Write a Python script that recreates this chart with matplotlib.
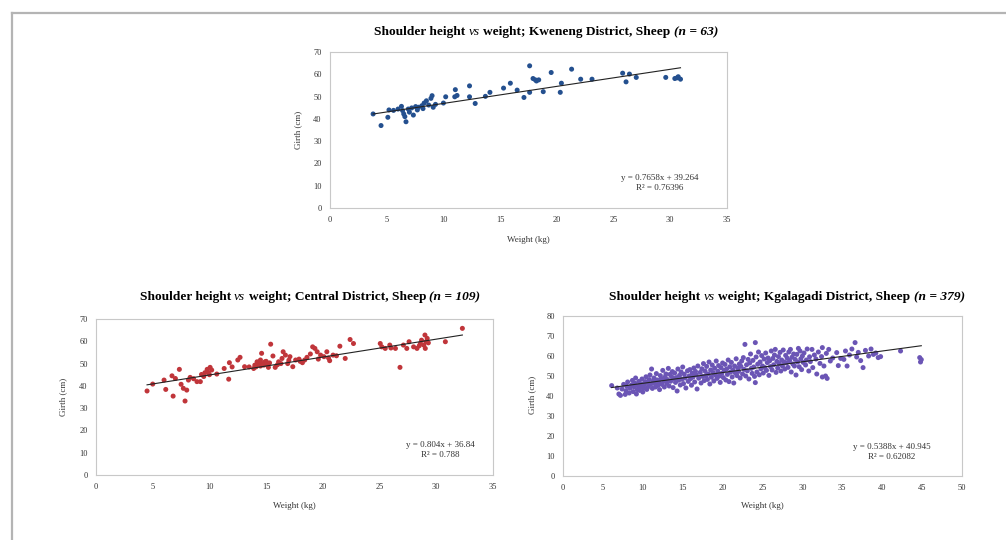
import matplotlib
matplotlib.use("Agg")
import matplotlib.pyplot as plt
from matplotlib.lines import Line2D
from matplotlib.offsetbox import TextArea, HPacker, AnnotationBbox
import numpy as np

plt.rcParams['font.family'] = ['Liberation Serif', 'DejaVu Serif']

# ---- Kweneng District (n = 63) ----
kw_weight = [3.8, 4.5, 5.1, 5.2, 5.6, 6.0, 6.3, 6.4, 6.5, 6.6, 6.7, 6.9, 7.0, 7.2, 7.35, 7.55, 7.7,
             7.8, 8.1, 8.2, 8.3, 8.5, 8.7, 8.9, 9.0, 9.1, 9.3, 10.0, 10.2, 11.0, 11.05, 11.2, 12.3,
             12.3, 12.8, 13.7, 14.1, 15.3, 15.9, 16.5, 17.1, 17.6, 17.6, 17.9, 18.1, 18.2, 18.4,
             18.8, 19.5, 20.3, 20.4, 21.3, 22.1, 23.1, 25.8, 26.1, 26.4, 27.0, 29.6, 30.4, 30.6,
             30.7, 30.9]
kw_girth = [42.2, 37.0, 40.7, 44.0, 43.8, 44.4, 45.6, 43.7, 42.2, 41.0, 38.7, 44.4, 43.0, 44.9,
            41.7, 45.5, 44.0, 45.2, 45.9, 44.6, 47.1, 48.1, 46.2, 49.2, 50.4, 45.2, 46.5, 47.1,
            49.9, 49.9, 53.1, 50.5, 54.8, 49.9, 46.9, 50.1, 51.9, 53.8, 56.0, 52.9, 49.6, 51.9,
            63.8, 58.1, 57.5, 57.0, 57.5, 52.2, 60.8, 51.9, 56.0, 62.3, 57.8, 57.8, 60.5, 56.6,
            60.1, 58.6, 58.6, 58.1, 58.4, 58.9, 57.8]

# ---- Central District (n = 109) ----
ce_weight = [4.5, 5.0, 6.0, 6.15, 6.7, 6.8, 7.0, 7.35, 7.5, 7.7, 7.85, 8.0, 8.15, 8.3, 8.6, 8.9,
             9.2, 9.3, 9.5, 9.6, 9.8, 9.9, 10.0, 10.06, 10.2, 10.65, 11.3, 11.7, 11.76, 12.0, 12.5,
             12.7, 13.1, 13.5, 13.9, 14.0, 14.1, 14.2, 14.3, 14.4, 14.5, 14.5, 14.6, 14.7, 14.8,
             14.9, 15.0, 15.1, 15.2, 15.3, 15.4, 15.6, 15.8, 16.0, 16.1, 16.3, 16.4, 16.5, 16.7,
             16.9, 17.0, 17.1, 17.35, 17.6, 17.9, 18.0, 18.2, 18.4, 18.6, 18.9, 19.1, 19.3, 19.5,
             19.6, 19.8, 20.1, 20.35, 20.5, 20.6, 20.9, 21.2, 21.5, 21.97, 22.4, 22.7, 25.06, 25.2,
             25.5, 25.9, 26.0, 26.4, 26.8, 27.1, 27.4, 27.6, 28.0, 28.3, 28.5, 28.6, 28.7, 28.9,
             29.0, 29.03, 29.1, 29.2, 29.3, 30.8, 32.3]
ce_girth = [37.7, 40.8, 42.6, 38.4, 44.5, 35.4, 43.3, 47.4, 40.7, 38.9, 33.2, 38.1, 42.6, 43.8,
            43.2, 41.9, 41.9, 45.1, 44.2, 45.9, 47.4, 45.9, 45.0, 48.3, 47.1, 45.3, 47.8, 43.0,
            50.4, 48.5, 51.6, 52.8, 48.6, 48.5, 47.8, 49.3, 48.5, 50.8, 50.0, 50.5, 48.9, 51.6,
            54.6, 50.0, 49.3, 50.8, 51.0, 49.6, 48.3, 50.3, 58.7, 53.4, 48.3, 49.5, 50.8, 50.0,
            52.3, 55.3, 53.8, 50.0, 51.5, 53.1, 48.6, 51.6, 52.0, 51.0, 50.4, 51.6, 52.8, 54.3,
            57.5, 56.8, 55.3, 52.0, 53.8, 53.1, 55.3, 52.5, 51.3, 53.8, 53.5, 57.8, 52.3, 60.8,
            59.0, 59.0, 57.5, 56.8, 58.3, 57.0, 56.8, 48.3, 58.3, 56.8, 59.8, 57.5, 56.8, 58.0,
            59.0, 60.5, 58.3, 62.8, 56.8, 59.8, 61.3, 59.3, 59.8, 65.8]

# ---- Kgalagadi District (n = 379) ----
kg_weight = [6.1, 6.8, 7.0, 7.2, 7.4, 7.6, 7.8, 7.9, 8.0, 8.1,
             8.3, 8.4, 8.6, 8.7, 8.8, 8.9, 9.0, 9.1, 9.2, 9.3, 9.4, 9.5, 9.6, 9.7, 9.8, 9.9,
             10.0, 10.1, 10.2, 10.3, 10.4, 10.5, 10.6, 10.7, 10.8, 10.9, 11.0, 11.1, 11.2, 11.3,
             11.4, 11.5, 11.6, 11.7, 11.8, 11.9,
             12.0, 12.1, 12.2, 12.3, 12.4, 12.5, 12.6, 12.7, 12.8, 12.9, 13.0, 13.1, 13.2, 13.3,
             13.4, 13.5, 13.6, 13.7, 13.8, 13.9,
             14.0, 14.1, 14.2, 14.3, 14.4, 14.5, 14.6, 14.7, 14.8, 14.9, 15.0, 15.1, 15.2, 15.3,
             15.4, 15.6, 15.7, 15.8, 15.9, 16.0,
             16.1, 16.2, 16.3, 16.4, 16.5, 16.6, 16.7, 16.8, 16.9, 17.0, 17.2, 17.3, 17.4, 17.5,
             17.6, 17.7, 17.8, 17.9, 18.0, 18.1,
             18.2, 18.3, 18.4, 18.5, 18.6, 18.7, 18.8, 18.9, 19.0, 19.1, 19.2, 19.3, 19.4, 19.5,
             19.6, 19.7, 19.8, 19.9, 20.0, 20.1,
             20.2, 20.3, 20.4, 20.5, 20.6, 20.7, 20.8, 20.9, 21.0, 21.1, 21.2, 21.3, 21.4, 21.5,
             21.6, 21.7, 21.8, 21.9, 22.0, 22.1,
             22.2, 22.3, 22.4, 22.5, 22.6, 22.7, 22.8, 22.9, 23.0, 23.1, 23.2, 23.3, 23.4, 23.5,
             23.6, 23.7, 23.8, 23.9, 24.0, 24.1, 24.1,
             24.2, 24.3, 24.4, 24.5, 24.6, 24.7, 24.8, 24.9, 25.0, 25.1, 25.2, 25.3, 25.4, 25.5,
             25.6, 25.7, 25.8, 25.9, 26.0, 26.1,
             26.2, 26.3, 26.4, 26.5, 26.6, 26.7, 26.8, 26.9, 27.0, 27.1, 27.2, 27.3, 27.4, 27.5,
             27.6, 27.7, 27.8, 27.9, 28.0, 28.1,
             28.2, 28.3, 28.4, 28.5, 28.6, 28.7, 28.8, 28.9, 29.0, 29.1, 29.2, 29.3, 29.4, 29.5,
             29.6, 29.7, 29.8, 29.9, 30.0, 30.1,
             30.2, 30.4, 30.5, 30.6, 30.8, 30.9, 31.0, 31.2, 31.3, 31.5, 31.7, 31.8, 32.0, 32.2,
             32.4, 32.5, 32.5, 32.7, 32.9, 33.1, 33.0, 33.3, 33.5, 33.8,
             34.3, 34.5, 34.8, 35.2, 35.4, 35.6, 35.9, 36.2, 36.6, 36.8, 37.0, 37.3, 37.6, 37.9,
             38.3, 38.6, 38.9, 39.2, 39.5, 39.8,
             42.3, 44.7, 44.8, 44.9]
kg_girth = [45.2, 44.0, 41.0, 40.3, 43.5, 45.8, 40.8, 42.6, 44.8, 47.0,
            41.5, 43.9, 45.5, 47.8, 42.2, 44.6, 46.4, 49.0, 41.0, 43.2, 45.1, 47.3, 42.8, 44.3, 46.0, 48.5,
            42.0, 44.0, 45.6, 47.2, 49.6, 43.3, 46.8, 44.7, 48.2, 50.5, 45.9, 53.5, 43.8, 47.5,
            49.0, 46.2, 44.5, 51.2, 48.0, 45.3,
            47.0, 43.2, 50.2, 48.8, 45.8, 52.8, 47.6, 44.5, 49.5, 51.0, 46.3, 48.2, 53.8, 45.0,
            50.8, 47.4, 49.7, 52.2, 44.2, 48.6,
            51.5, 46.8, 49.2, 42.5, 53.5, 47.9, 50.3, 45.5, 52.0, 48.4, 54.5, 46.2, 50.9, 49.0,
            44.0, 52.6, 47.3, 50.0, 53.2, 48.7,
            45.4, 51.4, 49.5, 54.0, 47.0, 52.3, 50.6, 43.5, 55.0, 48.9, 51.8, 46.5, 53.6, 49.8,
            56.2, 47.7, 52.5, 50.2, 54.8, 48.3,
            51.0, 57.0, 46.0, 53.0, 49.4, 55.5, 51.7, 47.5, 53.9, 50.5, 57.5, 48.8, 52.4, 55.2,
            50.0, 46.8, 54.2, 51.3, 56.5, 49.2,
            52.8, 55.8, 48.0, 53.5, 50.8, 58.0, 47.2, 54.6, 51.9, 56.8, 49.5, 53.0, 46.5, 55.0,
            51.5, 58.6, 50.2, 54.0, 52.3, 56.0,
            49.0, 54.8, 57.5, 51.0, 59.2, 53.3, 65.8, 50.0, 55.6, 52.6, 58.3, 48.5, 56.5, 61.0,
            53.8, 51.3, 57.8, 54.5, 49.8, 66.7, 46.7,
            59.5, 52.0, 55.9, 62.0, 50.6, 57.0, 53.6, 60.2, 55.0, 51.5, 58.5, 54.2, 61.5, 52.8,
            56.7, 59.0, 50.3, 57.6, 54.7, 62.5,
            53.0, 58.8, 55.6, 60.5, 63.3, 51.8, 57.3, 54.0, 59.7, 56.2, 61.8, 52.5, 58.0, 55.0,
            63.0, 57.0, 53.5, 60.3, 56.5, 58.9,
            54.3, 62.0, 57.7, 63.3, 52.0, 59.4, 56.0, 61.0, 55.0, 58.3, 50.5, 60.8, 57.0, 63.8,
            54.6, 62.5, 58.6, 53.2, 60.0, 56.8,
            61.5, 55.5, 58.0, 63.5, 52.5, 59.6, 57.2, 63.3, 54.2, 60.5, 58.5, 51.0, 62.0, 56.3,
            59.7, 64.2, 49.5, 55.0, 50.0, 48.8, 61.3, 63.3, 57.5, 59.0,
            61.7, 55.2, 58.8, 58.3, 62.5, 55.0, 60.5, 63.5, 66.7, 59.5, 61.8, 57.7, 54.2, 62.8,
            60.0, 63.5, 60.8, 61.5, 59.2, 59.7,
            62.5, 59.2, 57.0, 58.2]

districts = ["Kweneng", "Central", "Kgalagadi"]
n_animals = [63, 109, 379]
slopes = [0.7658, 0.804, 0.5388]
intercepts = [39.264, 36.84, 40.945]
eq_text = ["y = 0.7658x + 39.264\nR² = 0.76396",
           "y = 0.804x + 36.84\nR² = 0.788",
           "y = 0.5388x + 40.945\nR² = 0.62082"]
xmax = [35, 35, 50]
ymax = [70, 70, 80]
colors = ["#24508f", "#c0353a", "#6b55b5"]

W, H = 1006, 540
fig = plt.figure(figsize=(W / 100, H / 100), dpi=100)

def px(l, t, r, b):
    return [l / W, 1 - b / H, (r - l) / W, (b - t) / H]

def title_box(district, n):
    # mixed bold / italic title, built from pieces
    fs = 9.6
    parts = [TextArea("Shoulder height", textprops=dict(fontsize=fs, fontweight='bold')),
             TextArea("vs", textprops=dict(fontsize=fs, fontstyle='italic')),
             TextArea(f"weight; {district} District, Sheep",
                      textprops=dict(fontsize=fs, fontweight='bold')),
             TextArea(f"(n = {n})", textprops=dict(fontsize=fs, fontweight='bold', fontstyle='italic'))]
    return HPacker(children=parts, align='baseline', pad=0, sep=2.4)

# pixel boxes of the three plot areas
boxes = [(330, 52, 727, 208), (96, 319, 493, 475), (563, 316, 962, 476)]
title_pos = [(546, 32), (310, 297), (787, 297)]
ylab_pos = [(298, 130), (63, 397), (532, 395)]
xlab_pos = [(528, 240), (294, 506), (762, 506)]
eq_pos = [(660, 183), (440, 450), (892, 452)]

data = [(kw_weight, kw_girth), (ce_weight, ce_girth), (kg_weight, kg_girth)]

for i in range(3):
    ax = fig.add_axes(px(*boxes[i]))
    xs, ys = data[i]
    ax.scatter(xs, ys, s=13, color=colors[i], edgecolors='none', zorder=3)
    lx = np.array([min(xs), max(xs)])
    ax.plot(lx, slopes[i] * lx + intercepts[i], color='#222222', lw=0.8, zorder=4)
    ax.set_xlim(0, xmax[i])
    ax.set_ylim(0, ymax[i])
    ax.set_xticks(np.arange(0, xmax[i] + 1, 5))
    ax.set_yticks(np.arange(0, ymax[i] + 1, 10))
    for s in ax.spines.values():
        s.set_color('#c8c8c8')
        s.set_linewidth(0.8)
    ax.tick_params(labelsize=6, length=0, pad=6, colors='#333333')

    ab = AnnotationBbox(title_box(districts[i], n_animals[i]),
                        (title_pos[i][0] / W, 1 - title_pos[i][1] / H),
                        xycoords='figure fraction', frameon=False, box_alignment=(0.5, 0.5))
    fig.add_artist(ab)
    fig.text(ylab_pos[i][0] / W, 1 - ylab_pos[i][1] / H, "Girth (cm)",
             rotation=90, ha='center', va='center', fontsize=6.5, color='#333333')
    fig.text(xlab_pos[i][0] / W, 1 - xlab_pos[i][1] / H, "Weight (kg)",
             ha='center', va='center', fontsize=6.5, color='#333333')
    fig.text(eq_pos[i][0] / W, 1 - eq_pos[i][1] / H, eq_text[i],
             ha='center', va='center', fontsize=6.5, color='#333333', linespacing=1.4)

# grey page frame (top and left edge)
fig.add_artist(Line2D([12 / W, 1], [1 - 13 / H, 1 - 13 / H], color='#b4b4b4', lw=1.6))
fig.add_artist(Line2D([12 / W, 12 / W], [0, 1 - 13 / H], color='#b4b4b4', lw=1.6))

fig.savefig("out.png", dpi=100)
